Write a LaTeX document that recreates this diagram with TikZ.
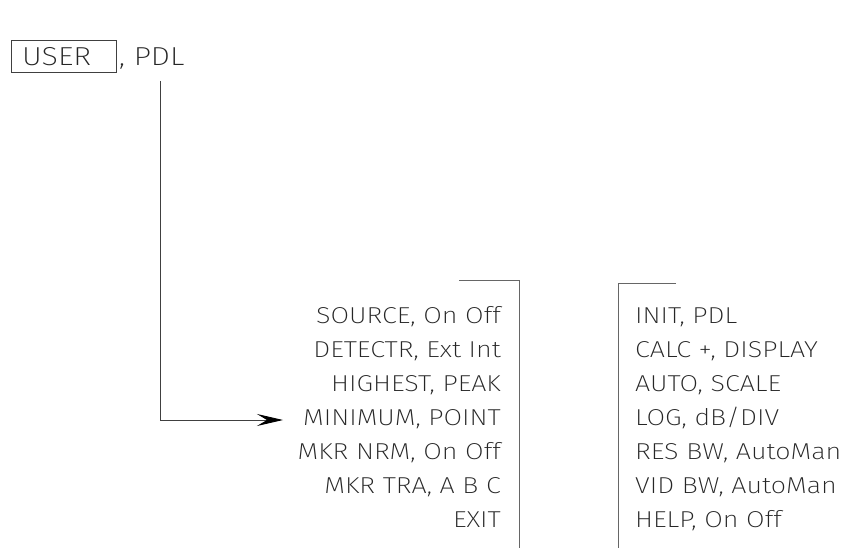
\documentclass[tikz,border=0pt]{standalone}
\usepackage{fontspec}
\setmainfont{Fira Sans ExtraLight}[FakeStretch=1.17]
\usetikzlibrary{arrows.meta}
\tikzset{
  lbl/.style={inner sep=0pt, font=\fontsize{23pt}{26pt}\selectfont, text=black!85},
  toplbl/.style={inner sep=0pt, font=\fontsize{26pt}{29pt}\selectfont, text=black!85},
  lline/.style={line width=0.9pt, draw=black!75},
  bracket/.style={line width=0.9pt, draw=black!60},
  arr/.style={line width=0.9pt, draw=black!75, -{Stealth[length=26pt,width=12pt,inset=10pt,color=black,fill=black]}}
}
\begin{document}
\begin{tikzpicture}[x=1pt,y=-1pt]
\useasboundingbox (0,0) rectangle (846,548);
% top box
\node[lline, draw, minimum width=105pt, minimum height=32pt, anchor=north west, inner sep=0pt] (userbox) at (11,40) {};
\node[toplbl, anchor=base west] (user) at (22,66) {USER};
\node[toplbl, anchor=base west] (pdl) at (119,66) {, PDL};
\coordinate (vtop) at (160,81);
\coordinate (tip) at (283,420);
\draw[arr] (vtop) |- (tip);
% left menu
\node[lbl, anchor=base east] (l1) at (501,323) {SOURCE, On Off};
\node[lbl, anchor=base east] (l2) at (501,357) {DETECTR, Ext Int};
\node[lbl, anchor=base east] (l3) at (501,391) {HIGHEST, PEAK};
\node[lbl, anchor=base east] (l4) at (501,425) {MINIMUM, POINT};
\node[lbl, anchor=base east] (l5) at (501,459) {MKR NRM, On Off};
\node[lbl, anchor=base east] (l6) at (501,493) {MKR TRA, A B C};
\node[lbl, anchor=base east] (l7) at (501,527) {EXIT};
\draw[bracket] (459,280) -- (519,280) -- (519,548);
% right menu
\node[lbl, anchor=base west] (r1) at (635,323) {INIT, PDL};
\node[lbl, anchor=base west] (r2) at (635,357) {CALC +, DISPLAY};
\node[lbl, anchor=base west] (r3) at (635,391) {AUTO, SCALE};
\node[lbl, anchor=base west] (r4) at (635,425) {LOG, dB/DIV};
\node[lbl, anchor=base west] (r5) at (635,459) {RES BW, AutoMan};
\node[lbl, anchor=base west] (r6) at (635,493) {VID BW, AutoMan};
\node[lbl, anchor=base west] (r7) at (635,527) {HELP, On Off};
\draw[bracket] (676,283) -- (618,283) -- (618,548);
\end{tikzpicture}
\end{document}
